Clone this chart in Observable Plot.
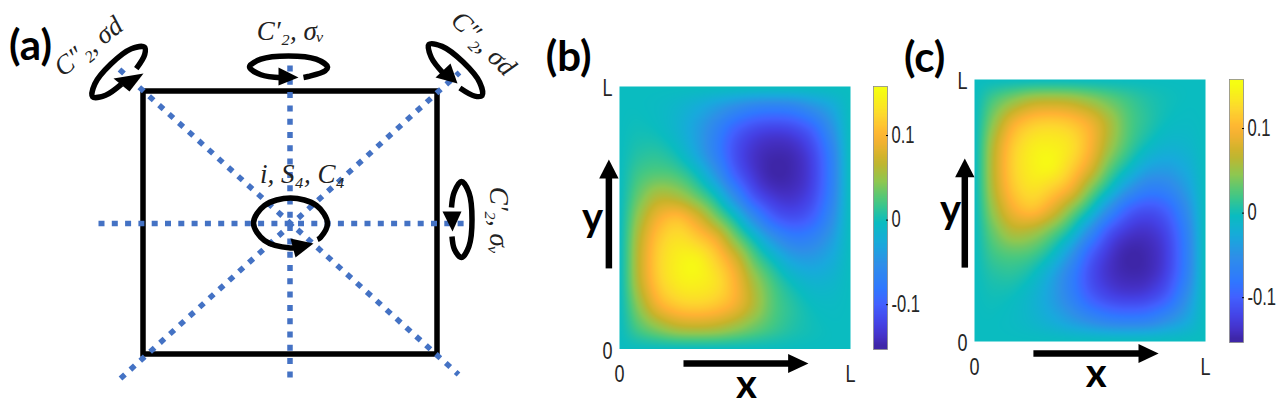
<!DOCTYPE html>
<html>
<head>
<meta charset="utf-8">
<script src="https://cdn.jsdelivr.net/npm/d3@7"></script>
<script src="https://cdn.jsdelivr.net/npm/@observablehq/plot@0.6"></script>
<style>
  html, body { margin: 0; padding: 0; background: #fff; }
  #figure { position: relative; width: 1280px; height: 400px; overflow: hidden; }
  #figure svg { position: absolute; overflow: visible; background: transparent; }
</style>
</head>
<body>
<div id="figure"></div>
<script>
// ---------- heat map (b): value at x = 0..L (13 columns), rows from y = L down to y = 0
const fieldB = [
  [0, 0, 0, 0, 0, 0, 0, 0, 0, 0, 0, 0, 0],
  [0, 0, -.003, -.010, -.022, -.038, -.055, -.068, -.072, -.068, -.051, -.028, 0],
  [0, .003, 0, -.012, -.034, -.064, -.098, -.118, -.125, -.120, -.098, -.051, 0],
  [0, .010, .012, 0, -.028, -.068, -.112, -.137, -.148, -.144, -.120, -.068, 0],
  [0, .022, .030, .024, 0, -.043, -.098, -.133, -.152, -.148, -.125, -.072, 0],
  [0, .037, .064, .060, .036, 0, -.055, -.108, -.133, -.137, -.118, -.068, 0],
  [0, .055, .098, .112, .088, .046, 0, -.055, -.098, -.112, -.098, -.055, 0],
  [0, .068, .118, .137, .125, .098, .047, 0, -.043, -.068, -.064, -.037, 0],
  [0, .072, .125, .148, .152, .127, .088, .036, 0, -.028, -.034, -.022, 0],
  [0, .068, .120, .144, .148, .137, .105, .060, .024, 0, -.012, -.010, 0],
  [0, .051, .098, .120, .125, .118, .098, .064, .030, .012, 0, -.003, 0],
  [0, .028, .051, .068, .072, .068, .055, .038, .022, .010, .003, 0, 0],
  [0, 0, 0, 0, 0, 0, 0, 0, 0, 0, 0, 0, 0]
];
// heat map (c) is the same field mirrored top to bottom
const fieldC = fieldB.slice().reverse();

// ---------- shared colour scale and colour bar
const colorStops = [-.153, -.14, -.125, -.1, -.08, -.05, -.025, 0, .025, .05, .075, .105, .13, .158];
const colorRange = ["#3e26a8", "#4430c4", "#4440e4", "#4260ff", "#2f78ff", "#2e8fe8", "#18aadc", "#0abcc0",
                    "#45c882", "#8fc750", "#c8b32a", "#ffb233", "#fdd72e", "#f6fd12"];
const colorbarValues = [.158, .15, .14, .13, .12, .11, .10, .09, .08, .07, .06, .05, .04, .03, .02, .01, 0,
                        -.01, -.02, -.03, -.04, -.05, -.06, -.07, -.08, -.09, -.10, -.11, -.12, -.13, -.14, -.153];
const colorbarTicks = [-.1, 0, .1];
const colorbarDomain = [-.153, .158];
const axisTicks = [0, 1];
const axisLabels = ["0", "L"];

// ---------- panel annotations, in each panel's 0..1 data units
const panelB = {
  tag: "(b)", tagAt: [-.22, 1.112],
  xShaft: [[.277, -.055], [.735, -.055]], xHead: [[.73, -.019], [.818, -.055], [.73, -.091]], xLabel: [.55, -.138],
  yShaft: [[-.046, .307], [-.046, .655]], yHead: [[-.088, .65], [-.046, .722], [-.004, .65]], yLabel: [-.117, .497]
};
const panelC = {
  tag: "(c)", tagAt: [-.216, 1.08],
  xShaft: [[.255, -.046], [.715, -.046]], xHead: [[.71, -.01], [.797, -.046], [.71, -.082]], xLabel: [.527, -.125],
  yShaft: [[-.042, .282], [-.042, .632]], yHead: [[-.084, .627], [-.042, .698], [0, .627]], yLabel: [-.104, .5]
};

// ---------- symmetry diagram (a), in picture units
const square = [143, 437, 91, 354];
const dottedLines = [
  [[289.5, 65], [289.5, 378]],
  [[98, 223], [464, 223]],
  [[119, 69], [458, 374]],
  [[120, 378], [459, 72]]
];
const rings = [
  [[303, 77], [307.5, 76], [324.6, 70.3], [327, 66.5], [315.6, 58.7], [288, 55.5], [260.4, 58.7], [249, 66.5], [260.4, 74.3], [281, 77.3]],
  [[135.8, 68.2], [144.2, 54], [143.9, 46.7], [130.9, 48.3], [110.4, 63.6], [94.3, 83.5], [92.1, 96.3], [105.1, 94.7], [121, 83.6]],
  [[459.4, 87.5], [474.3, 95.6], [481.6, 95], [479.2, 82], [462.6, 61.6], [441.6, 45.9], [428.4, 44], [430.8, 57], [442.9, 72.9]],
  [[451.5, 236], [454, 249], [461, 257], [468.4, 246], [471.5, 219], [468.4, 192], [461, 181], [453.6, 192], [451, 207]],
  [[317, 239], [320, 237], [327, 222.5], [316, 205], [290, 197.5], [264, 205], [253, 222.5], [264, 240], [290, 247.5], [300, 246.6]]
];
const ringHeads = [
  [[278, 67], [298, 77], [278, 85]],
  [[113, 78], [143, 73], [129, 91]],
  [[435, 77], [457, 83], [450, 63]],
  [[442, 211], [452, 231], [461, 211]],
  [[290, 238], [313, 243], [295, 257]]
];
const mathLabels = [
  {text: "C\u2033\u2082, \u03c3d", at: [88, 46], angle: -38},
  {text: "C\u2032\u2082, \u03c3\u1d65", at: [290, 31], angle: 0},
  {text: "C\u2033\u2082, \u03c3d", at: [483, 43], angle: 45},
  {text: "C\u2032\u2082, \u03c3\u1d65", at: [498, 220], angle: 90},
  {text: "i, S\u2084, C\u2084", at: [302, 174], angle: 0}
];
const panelATag = {text: "(a)", at: [30, 46]};

// ---------- helpers
const tickFont = "'Liberation Sans',Arial,sans-serif";
const boldFont = "Lato,'Open Sans',sans-serif";
const mathFont = "'Liberation Serif','DejaVu Serif',serif";

const colorOptions = {type: "linear", domain: colorStops, range: colorRange, interpolate: "rgb", clamp: true};

// smooth resampling of a square grid of values for the raster mark
function smoothGrid(index, w, h, X, Y, V) {
  const n = Math.round(Math.sqrt(index.length));
  const at = (r, c) => V[index[Math.max(0, Math.min(n - 1, r)) * n + Math.max(0, Math.min(n - 1, c))]];
  const cr = (a, b, c, d, t) => b + 0.5 * t * (c - a + t * (2 * a - 5 * b + 4 * c - d + t * (3 * (b - c) + d - a)));
  const W = new Float64Array(w * h);
  for (let py = 0; py < h; ++py) {
    const gy = (py + 0.5) / h * (n - 1), r = Math.floor(gy), ty = gy - r;
    for (let px = 0; px < w; ++px) {
      const gx = (px + 0.5) / w * (n - 1), c = Math.floor(gx), tx = gx - c;
      const row = k => cr(at(k, c - 1), at(k, c), at(k, c + 1), at(k, c + 2), tx);
      W[py * w + px] = cr(row(r - 1), row(r), row(r + 1), row(r + 2), ty);
    }
  }
  return W;
}

function place(svg, left, top) {
  svg.style.left = left + "px";
  svg.style.top = top + "px";
  document.getElementById("figure").appendChild(svg);
}

// the reference's tick labels are tall and narrow: squeeze the axis texts sideways
function squeezeTicks(svg, factor) {
  svg.querySelectorAll('g[aria-label$="tick label"] text').forEach(t => {
    const natural = t.getComputedTextLength();
    t.setAttribute("lengthAdjust", "spacingAndGlyphs");
    t.setAttribute("textLength", natural * factor);
  });
}

function polygon(points, fill) {
  return Plot.line(points, {x: d => d[0], y: d => d[1], fill, stroke: "none"});
}

function heatPanel(field, p, left, top, frameW, frameH, marginLeft, marginTop, marginBottom) {
  const cells = field.flatMap((row, r) => row.map((v, c) => ({x: c / (row.length - 1), y: 1 - r / (field.length - 1), v})));
  const xy = {x: d => d[0], y: d => d[1]};
  const svg = Plot.plot({
    width: marginLeft + frameW + 10, height: marginTop + frameH + marginBottom,
    marginLeft, marginTop, marginBottom, marginRight: 10,
    style: {background: "transparent", overflow: "visible"},
    x: {domain: [0, 1]}, y: {domain: [0, 1]},
    color: colorOptions,
    marks: [
      Plot.raster(cells, {x: "x", y: "y", fill: "v", x1: 0, x2: 1, y1: 1, y2: 0, interpolate: smoothGrid}),
      Plot.axisX({ticks: axisTicks, tickFormat: d => axisLabels[d], tickSize: 0, tickPadding: 16, label: null,
                  fontSize: 24, fontFamily: tickFont, fill: "#262626"}),
      Plot.axisY({ticks: axisTicks, tickFormat: d => axisLabels[d], tickSize: 0, tickPadding: 7, dy: 2, label: null,
                  fontSize: 24, fontFamily: tickFont, fill: "#262626"}),
      Plot.line(p.xShaft, {...xy, stroke: "black", strokeWidth: 6.5, strokeLinecap: "butt"}),
      Plot.line(p.yShaft, {...xy, stroke: "black", strokeWidth: 6.5, strokeLinecap: "butt"}),
      polygon(p.xHead, "black"),
      polygon(p.yHead, "black"),
      Plot.text(["x"], {x: [p.xLabel[0]], y: [p.xLabel[1]], text: d => d, fontSize: 40, fontWeight: 700, fontFamily: boldFont, fill: "black"}),
      Plot.text(["y"], {x: [p.yLabel[0]], y: [p.yLabel[1]], text: d => d, fontSize: 40, fontWeight: 700, fontFamily: boldFont, fill: "black"}),
      Plot.text([p.tag], {x: [p.tagAt[0]], y: [p.tagAt[1]], text: d => d, fontSize: 42, fontWeight: 700, fontFamily: boldFont, fill: "black"})
    ]
  });
  place(svg, left, top);
  squeezeTicks(svg, 0.75);
}

function colorbar(left, top, barH) {
  const svg = Plot.plot({
    width: 51, height: barH + 2, marginLeft: 0, marginRight: 37, marginTop: 1, marginBottom: 1,
    style: {background: "transparent", overflow: "visible"},
    x: {domain: [0, 1], axis: null},
    y: {domain: colorbarDomain},
    color: colorOptions,
    marks: [
      Plot.raster(colorbarValues, {width: 1, height: colorbarValues.length, x1: 0, x2: 1,
                                   y1: colorbarDomain[1], y2: colorbarDomain[0]}),
      Plot.frame({stroke: "#8a8a8a", strokeWidth: 0.8}),
      Plot.axisY({anchor: "right", ticks: colorbarTicks,
                  tickFormat: d => d === 0 ? "0" : d3.format(".1f")(d).replace("\u2212", "-"),
                  tickSize: -2, tickPadding: 6, label: null, fontSize: 23, fontFamily: tickFont, fill: "#262626"})
    ]
  });
  place(svg, left, top);
  squeezeTicks(svg, 0.72);
}

function diagram() {
  const xy = {x: d => d[0], y: d => d[1]};
  const svg = Plot.plot({
    width: 530, height: 400, margin: 0,
    style: {background: "transparent", overflow: "visible"},
    x: {domain: [0, 530], axis: null},
    y: {domain: [400, 0], axis: null},
    marks: [
      Plot.rect([square], {x1: d => d[0], x2: d => d[1], y1: d => d[2], y2: d => d[3],
                           fill: "none", stroke: "black", strokeWidth: 5.5}),
      ...dottedLines.map(l => Plot.line(l, {...xy, stroke: "#4472c4", strokeWidth: 5.5, strokeLinecap: "butt", strokeDasharray: "6 7.3"})),
      ...rings.map(r => Plot.line(r, {...xy, stroke: "black", strokeWidth: 5.5, strokeLinecap: "butt", curve: "catmull-rom"})),
      ...ringHeads.map(h => polygon(h, "black")),
      ...mathLabels.map(m => Plot.text([m.text], {x: [m.at[0]], y: [m.at[1]], text: d => d, rotate: m.angle,
                                                  fontSize: 27, fontFamily: mathFont, fontStyle: "italic", fill: "#222"})),
      Plot.text([panelATag.text], {x: [panelATag.at[0]], y: [panelATag.at[1]], text: d => d,
                                   fontSize: 42, fontWeight: 700, fontFamily: boldFont, fill: "black"})
    ]
  });
  place(svg, 0, 0);
}

diagram();
heatPanel(fieldB, panelB, 530, 0, 231, 262.5, 89, 86, 51.5);
heatPanel(fieldC, panelC, 890, 0, 231, 262, 84, 79, 59);
colorbar(873, 85, 263);
colorbar(1229, 78, 263);
</script>
</body>
</html>
